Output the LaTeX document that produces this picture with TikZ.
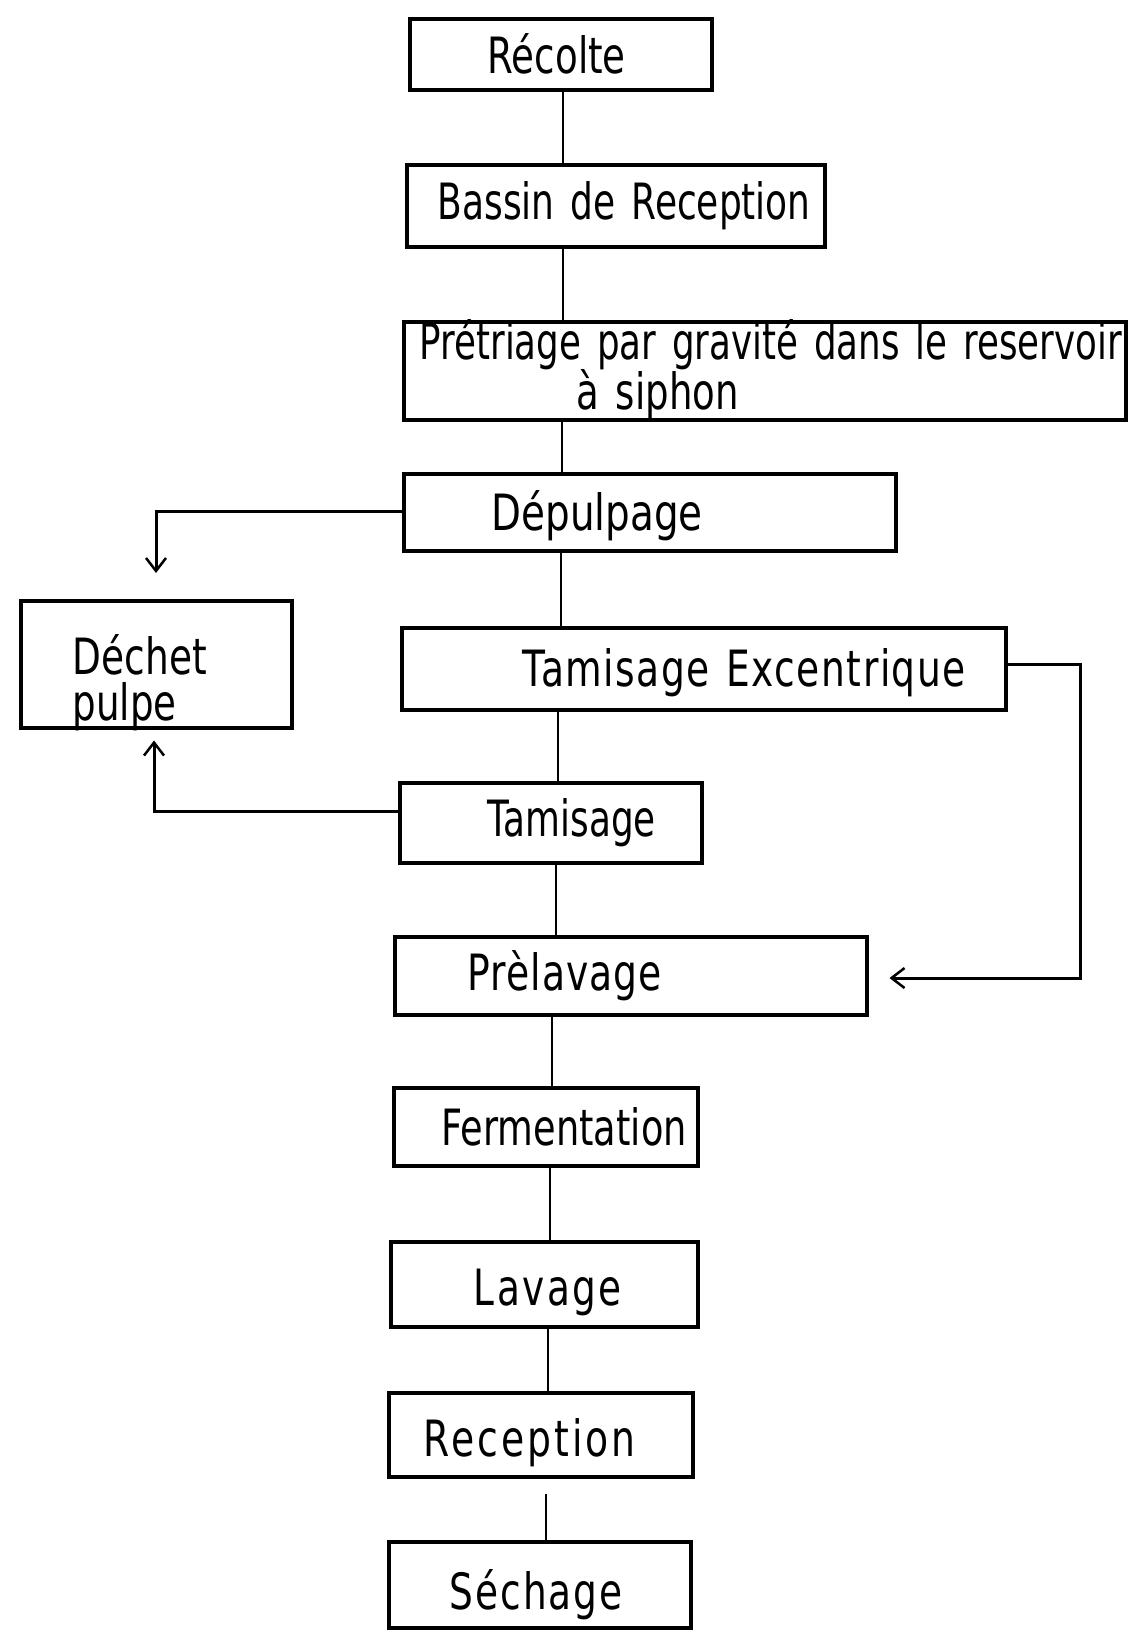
\documentclass[tikz,border=0pt]{standalone}
\usepackage{fontspec}
\usepackage{graphicx}
\setmainfont{DejaVu Sans}[FakeStretch=0.75]
\usetikzlibrary{arrows.meta}
% a line of lettering brought to a given width (in pt), height unchanged,
% optionally lowered by the given amount (in pt) without changing its box
\newcommand\lettering[3][0]{%
  \raisebox{-#1pt}[\height][\depth]{\resizebox{#2pt}{\height}{#3}}}
% letter size with close line spacing
\newcommand\stagefont{\fontsize{50}{40}\selectfont
  \lineskiplimit=-100pt\relax\lineskip=0pt\relax}
\begin{document}
\begin{tikzpicture}[x=1pt,y=-1pt,
  stage/.style={draw, line width=3.5pt, anchor=north west, inner xsep=0pt,
    inner ysep=0pt, align=left, font=\stagefont},
  link/.style={line width=2pt},
  side/.style={line width=3pt,
    -{Straight Barb[length=13pt,width=20pt,line width=2.5pt]}}
]
\useasboundingbox (0,0) rectangle (1134,1634);

% process stages
\node[stage, minimum width=302pt, minimum height=71pt, text width=302pt]
  (recolte) at (408,17) {\hspace*{78pt}\lettering{138}{Récolte}};
\node[stage, minimum width=418pt, minimum height=82pt, text width=418pt]
  (bassin) at (405,163) {\hspace*{31pt}\lettering{373}{Bassin de Reception}};
\node[stage, minimum width=722pt, minimum height=96pt, text width=722pt]
  (pretri) at (402,320)
  {\hspace*{16pt}\lettering[-2]{702}{Prétriage par gravité dans le reservoir}\\[8pt]
   \hspace*{173pt}\lettering{162}{à siphon}};
\node[stage, minimum width=492pt, minimum height=77pt, text width=492pt]
  (depulp) at (402,472) {\hspace*{88pt}\lettering[3]{211}{Dépulpage}};
\node[stage, minimum width=271pt, minimum height=127pt, text width=271pt]
  (dechet) at (19,599)
  {\hspace*{52pt}\lettering[18]{134}{Déchet}\\[6pt]
   \hspace*{52pt}\lettering[18]{104}{pulpe}};
\node[stage, minimum width=604pt, minimum height=82pt, text width=604pt]
  (tamexc) at (400,626)
  {\hspace*{121pt}\lettering[4]{443}{\addfontfeature{LetterSpace=3}Tamisage Excentrique}};
\node[stage, minimum width=302pt, minimum height=80pt, text width=302pt]
  (tamis) at (398,781) {\hspace*{88pt}\lettering{168}{Tamisage}};
\node[stage, minimum width=472pt, minimum height=78pt, text width=472pt]
  (prelav) at (393,935)
  {\hspace*{73pt}\lettering{194}{\addfontfeature{LetterSpace=2}Prèlavage}};
\node[stage, minimum width=304pt, minimum height=78pt, text width=304pt]
  (ferm) at (392,1086) {\hspace*{48pt}\lettering{245}{Fermentation}};
\node[stage, minimum width=307pt, minimum height=85pt, text width=307pt]
  (lavage) at (389,1240)
  {\hspace*{83pt}\lettering[8]{148}{\addfontfeature{LetterSpace=5}Lavage}};
\node[stage, minimum width=304pt, minimum height=84pt, text width=304pt]
  (recep) at (387,1391)
  {\hspace*{35pt}\lettering[8]{212}{\addfontfeature{LetterSpace=6}Reception}};
\node[stage, minimum width=302pt, minimum height=86pt, text width=302pt]
  (sechage) at (387,1540)
  {\hspace*{61pt}\lettering[10]{173}{\addfontfeature{LetterSpace=4}Séchage}};

% main line
\draw[link] (recolte.south -| 563,0) -- (bassin.north -| 563,0);
\draw[link] (bassin.south -| 563,0) -- (pretri.north -| 563,0);
\draw[link] (pretri.south -| 562,0) -- (depulp.north -| 562,0);
\draw[link] (depulp.south -| 561,0) -- (tamexc.north -| 561,0);
\draw[link] (tamexc.south -| 558,0) -- (tamis.north -| 558,0);
\draw[link] (tamis.south -| 556,0) -- (prelav.north -| 556,0);
\draw[link] (prelav.south -| 552,0) -- (ferm.north -| 552,0);
\draw[link] (ferm.south -| 550,0) -- (lavage.north -| 550,0);
\draw[link] (lavage.south -| 548,0) -- (recep.north -| 548,0);
\draw[link, shorten <=15pt] (recep.south -| 546,0) -- (sechage.north -| 546,0);

% side streams
\draw[side, shorten >=26pt] (depulp.west |- 0,511) -| (dechet.north -| 156,0);
\draw[side, shorten >=11pt] (tamis.west |- 0,811) -| (dechet.south -| 154,0);
\draw[side, shorten >=21pt] (tamexc.east |- 0,664) -- ++(73,0)
  |- (prelav.east |- 0,978);
\end{tikzpicture}
\end{document}
